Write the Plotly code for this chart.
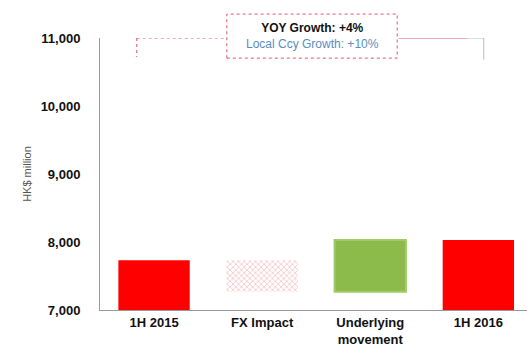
import plotly.graph_objects as go

# Waterfall of half-year figures (HK$ million)
categories = ["1H 2015", "FX Impact", "Underlying<br>movement", "1H 2016"]
opening_value = 7730
fx_impact = -460
underlying_movement = 760
closing_value = 8030
y_ticks = [7000, 8000, 9000, 10000, 11000]
yoy_text = "YOY Growth: +4%"
local_text = "Local Ccy Growth: +10%"

fx_base = opening_value + fx_impact
bar_width = 0.66
font_family = "Liberation Sans Narrow, Liberation Sans, Arial"
tick_font = dict(family=font_family, size=13, color="#111111", weight="bold")

fig = go.Figure()

fig.add_trace(go.Bar(
    x=[categories[0]], y=[opening_value], width=bar_width,
    marker=dict(color="#ff0000", line=dict(width=0)),
))
fig.add_trace(go.Bar(
    x=[categories[1]], y=[-fx_impact], base=[fx_base], width=bar_width,
    marker=dict(
        color="white", line=dict(width=0),
        pattern=dict(shape="x", fgcolor="#e66a78", bgcolor="white", size=4, solidity=0.3),
    ),
))
fig.add_trace(go.Bar(
    x=[categories[2]], y=[underlying_movement], base=[fx_base], width=bar_width,
    marker=dict(color="#8dbb4b", line=dict(width=2, color="#a2c96a")),
))
fig.add_trace(go.Bar(
    x=[categories[3]], y=[closing_value], width=bar_width,
    marker=dict(color="#ff0000", line=dict(width=0)),
))

# Growth bracket above the bars
bracket_y = 11000
drop_y = 10720
left_x, box_l, box_r, right_x = -0.16, 0.68, 2.26, 3.05
dot = dict(color="#e0556a", width=1, dash="dot")
fig.add_shape(type="line", xref="x", yref="y", x0=left_x, x1=left_x, y0=bracket_y, y1=drop_y, line=dot)
fig.add_shape(type="line", xref="x", yref="y", x0=left_x, x1=box_l, y0=bracket_y, y1=bracket_y, line=dot)
fig.add_shape(type="line", xref="x", yref="y", x0=box_r, x1=right_x - 0.15, y0=bracket_y, y1=bracket_y,
              line=dict(color="#e0556a", width=1))
fig.add_shape(type="line", xref="x", yref="y", x0=right_x - 0.15, x1=right_x, y0=bracket_y, y1=bracket_y,
              line=dict(color="#bbbbbb", width=1))
fig.add_shape(type="line", xref="x", yref="y", x0=right_x, x1=right_x, y0=bracket_y, y1=drop_y - 40,
              line=dict(color="#bbbbbb", width=1))

# Growth call-out box (dotted frame)
fig.add_shape(type="rect", xref="paper", yref="paper", x0=0.297, x1=0.696, y0=0.926, y1=1.088,
              line=dict(color="#e0556a", width=1, dash="dot"), fillcolor="white", layer="above")
fig.add_annotation(
    xref="paper", yref="paper", x=0.4965, y=1.007, yanchor="middle",
    text=f"<b>{yoy_text}</b><br><span style='color:#5b8dc0'>{local_text}</span>",
    showarrow=False, align="center",
    font=dict(family=font_family, size=12, color="#111111"),
)

fig.update_layout(
    width=527, height=352,
    margin=dict(l=100, r=0, t=38, b=42),
    plot_bgcolor="white", paper_bgcolor="white",
    barmode="overlay", showlegend=False,
    xaxis=dict(
        range=[-0.5, 3.45], showgrid=False, showline=True, linecolor="#999999", linewidth=1,
        ticks="", tickfont=tick_font, zeroline=False,
    ),
    yaxis=dict(
        range=[7000, 11000], tickvals=y_ticks, tickformat=",", showgrid=False,
        showline=True, linecolor="#999999", linewidth=1, zeroline=False,
        ticks="outside", ticklen=16, tickcolor="rgba(0,0,0,0)", tickfont=tick_font,
        title=dict(text="HK$ million", font=dict(family=font_family, size=11, color="#555555"),
                   standoff=6),
    ),
)

fig.write_html("out.html")
